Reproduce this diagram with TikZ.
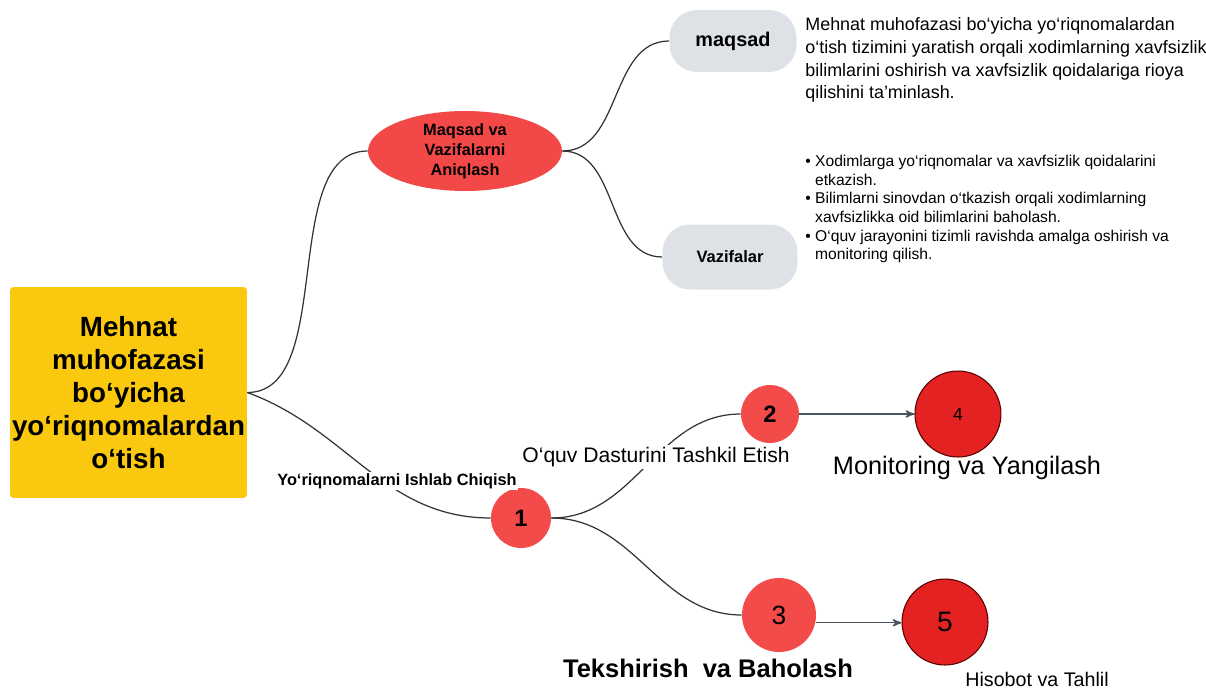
\documentclass[tikz,border=0pt]{standalone}
\usepackage{fontspec}
\setmainfont{Liberation Sans}
\usetikzlibrary{arrows,positioning,shapes.geometric}

\definecolor{titlegold}{HTML}{F9C80F}
\definecolor{goalred}{HTML}{F24848}
\definecolor{steplight}{HTML}{F34A4A}
\definecolor{stepdark}{HTML}{E42222}
\definecolor{pillgray}{HTML}{DEE1E6}
\definecolor{linkgray}{HTML}{333333}
\definecolor{arrowgray}{HTML}{4A5560}

\begin{document}
\begin{tikzpicture}[x=0.02cm,y=-0.02cm,>=stealth',node distance=3cm,
   link/.style={color=linkgray,line width=0.7pt},
   flow/.style={color=arrowgray,line width=0.8pt,->},
   pill/.style={fill=pillgray,rounded corners=0.55cm,inner sep=0pt},
   stepnode/.style={circle,fill=steplight,inner sep=0pt},
   endnode/.style={circle,fill=stepdark,draw=black!65!red,line width=0.6pt,inner sep=0pt},
   tag/.style={fill=white,inner sep=1pt}]
   \useasboundingbox (0,0) rectangle (1206,690);

   \node[fill=titlegold,rounded corners=2pt,minimum width=4.74cm,minimum height=4.22cm,inner sep=0pt,
         align=center,font=\fontsize{15.8}{18.85}\selectfont\bfseries]
         (title) at (128.5,392.5) {Mehnat\\muhofazasi\\bo‘yicha\\yo‘riqnomalardan\\o‘tish};

   \node[ellipse,fill=goalred,minimum width=3.88cm,minimum height=1.6cm,inner sep=0pt,
         align=center,font=\fontsize{9.3}{11.3}\selectfont\bfseries]
         (goals) at (465,151) {Maqsad va\\Vazifalarni\\Aniqlash};

   \node[pill,minimum width=2.54cm,minimum height=1.24cm,font=\fontsize{11.3}{13}\selectfont\bfseries]
         (aim) at (733,41) {maqsad};
   \node[pill,minimum width=2.7cm,minimum height=1.3cm,font=\fontsize{9.4}{11}\selectfont\bfseries]
         (tasks) at (730,257) {Vazifalar};

   \node[anchor=north west,inner sep=0pt,align=left,font=\fontsize{10.2}{13}\selectfont]
         (aimtext) at (805,17) {Mehnat muhofazasi bo‘yicha yo‘riqnomalardan\\
         o‘tish tizimini yaratish orqali xodimlarning xavfsizlik\\
         bilimlarini oshirish va xavfsizlik qoidalariga rioya\\
         qilishini ta’minlash.};
   \node[anchor=north west,inner sep=0pt,align=left,font=\fontsize{8.9}{10.6}\selectfont]
         (tasktext) at (805,155) {\textbullet\ Xodimlarga yo‘riqnomalar va xavfsizlik qoidalarini\\
         \phantom{\textbullet\ }etkazish.\\
         \textbullet\ Bilimlarni sinovdan o‘tkazish orqali xodimlarning\\
         \phantom{\textbullet\ }xavfsizlikka oid bilimlarini baholash.\\
         \textbullet\ O‘quv jarayonini tizimli ravishda amalga oshirish va\\
         \phantom{\textbullet\ }monitoring qilish.};

   % numbered steps
   \node[stepnode,minimum size=1.2cm,font=\fontsize{13.5}{15}\selectfont\bfseries] (n1) at (521,518) {1};
   \node[stepnode,minimum size=1.16cm,font=\fontsize{13.5}{15}\selectfont\bfseries] (n2) at (770,414) {2};
   \node[stepnode,minimum size=1.48cm,font=\fontsize{15}{17}\selectfont] (n3) at (779,615) {3};
   \node[endnode,minimum size=1.72cm,font=\fontsize{10}{12}\selectfont] (n4) [right of=n2,node distance=3.76cm] {4};
   \node[endnode,minimum size=1.72cm,font=\fontsize{16}{18}\selectfont] (n5) at (945,622) {5};

   \path[link] (title.east) edge [out=0,in=180,looseness=0.85] (goals.west)
                            edge [out=-20,in=180]              (n1.west)
               (goals.east) edge [out=0,in=180]                (aim.west)
                            edge [out=0,in=180]                (tasks.west)
               (n1.east)    edge [out=0,in=180]                (n2.west)
                            edge [out=0,in=180]                (n3.west);

   \path[flow] (n2) edge (n4)
               (n3.-12) edge (n3.-12 -| n5.west);

   \node[tag,font=\fontsize{9.3}{11}\selectfont\bfseries] (lab1) at (397,481) {Yo‘riqnomalarni Ishlab Chiqish};
   \node[tag,font=\fontsize{12}{14}\selectfont] (lab2) at (656,457) {O‘quv Dasturini Tashkil Etish};
   \node[font=\fontsize{14.4}{16}\selectfont] (lab4) at (967,468) {Monitoring va Yangilash};
   \node[font=\fontsize{14.5}{16}\selectfont\bfseries] (lab3) at (708,668) {Tekshirish\ \ va Baholash};
   \node[font=\fontsize{11.2}{13}\selectfont] (lab5) at (1037,679) {Hisobot va Tahlil};
\end{tikzpicture}
\end{document}
